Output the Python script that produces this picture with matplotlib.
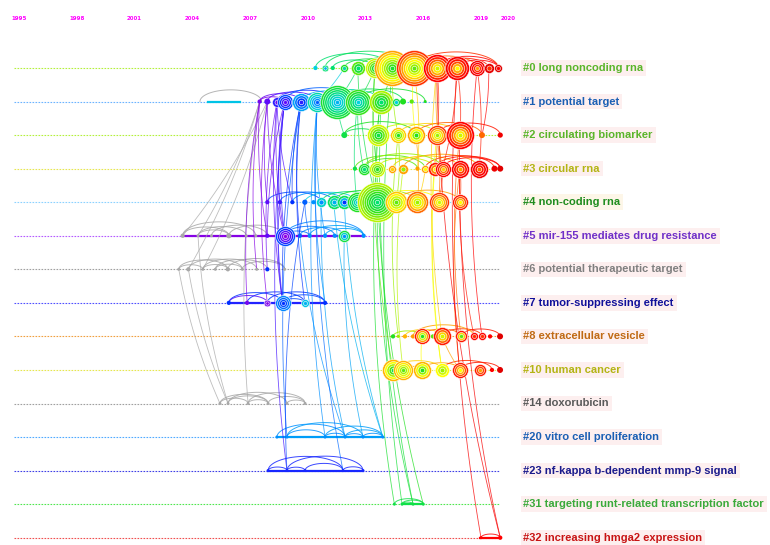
import numpy as np
import matplotlib
matplotlib.use("Agg")
from matplotlib import pyplot as plt

# cluster ids in row order, with their labels
clusters = [0, 1, 2, 3, 4, 5, 6, 7, 8, 10, 14, 20, 23, 31, 32]
cluster_labels = ["long noncoding rna", "potential target", "circulating biomarker", "circular rna",
                  "non-coding rna", "mir-155 mediates drug resistance", "potential therapeutic target",
                  "tumor-suppressing effect", "extracellular vesicle", "human cancer", "doxorubicin",
                  "vitro cell proliferation", "nf-kappa b-dependent mmp-9 signal",
                  "targeting runt-related transcription factor", "increasing hmga2 expression"]

year_ticks = [1995, 1998, 2001, 2004, 2007, 2010, 2013, 2016, 2019, 2020]

# nodes: (year, citations, first cited year, last cited year)
nodes_0 = [(2010.4, 2, 2010.4, 2011), (2010.9, 5, 2010.5, 2012), (2011.3, 2, 2011, 2012),
           (2011.9, 7, 2011.5, 2013), (2012.6, 22, 2012, 2013.5), (2013.5, 44, 2012.5, 2014.5),
           (2014.4, 144, 2012.8, 2016), (2015.5, 144, 2013.5, 2017), (2016.7, 87, 2014.5, 2018),
           (2017.75, 64, 2015, 2018.5), (2018.8, 28, 2016, 2019), (2019.4, 11, 2017, 2019.6),
           (2019.9, 7, 2018, 2020)]
nodes_1 = [(2007.5, 2, 2007, 2007.5), (2007.9, 4, 2007.3, 2008), (2008.4, 11, 2007.6, 2008.6),
           (2008.8, 28, 2008, 2009.3), (2009.65, 36, 2008.6, 2010.3), (2010.5, 44, 2009.5, 2011.5),
           (2011.5, 128, 2010.5, 2012.8), (2012.6, 75, 2011, 2013.2), (2013.8, 64, 2012, 2014.2),
           (2014.6, 7, 2011, 2012.5), (2014.95, 4, 2012.5, 2013), (2015.4, 2, 2013, 2013.5),
           (2016.1, 1, 2013, 2013)]
nodes_2 = [(2011.9, 4, 2012.5, 2012.5), (2013.65, 54, 2012.5, 2014.6), (2014.7, 28, 2013, 2015.6),
           (2015.6, 36, 2013, 2016), (2016.7, 44, 2014, 2017), (2017.9, 87, 2014.5, 2018),
           (2019.05, 4, 2016, 2016.5), (2020, 3, 2018, 2019)]
nodes_3 = [(2012.45, 2, 2012.5, 2012.5), (2012.9, 16, 2012, 2013), (2013.6, 28, 2013, 2014.5),
           (2014.4, 7, 2015.5, 2016), (2014.95, 11, 2014, 2016), (2015.7, 2, 2016, 2016),
           (2016.1, 7, 2015, 2016), (2016.6, 22, 2015, 2017.5), (2017, 28, 2015.5, 2018),
           (2017.9, 36, 2016, 2018.5), (2018.9, 36, 2016.5, 2019), (2019.7, 4, 2018, 2019),
           (2020, 4, 2019, 2020)]
nodes_4 = [(2007.9, 2, 2008, 2008), (2008.55, 2, 2008.5, 2008.5), (2009.2, 2, 2009, 2009),
           (2009.85, 3, 2009.5, 2009.5), (2010.3, 2, 2010, 2010), (2010.7, 11, 2010, 2011.2),
           (2011.35, 22, 2010.5, 2012.3), (2011.9, 22, 2009, 2012.3), (2012.55, 44, 2011, 2013),
           (2013.6, 178, 2012, 2014.3), (2014.6, 54, 2013.5, 2015.6), (2015.7, 54, 2014, 2016.5),
           (2016.8, 44, 2014.5, 2017), (2017.9, 28, 2015, 2017.5)]
nodes_5 = [(2003.5, 2, 2005, 2005), (2004.3, 1, 2005, 2005), (2005.0, 1, 2005, 2005),
           (2005.9, 3, 2005, 2005), (2006.8, 1, 2005, 2005), (2007.3, 1, 2005, 2005),
           (2007.9, 2, 2008, 2008), (2008.8, 44, 2007, 2009.3), (2009.6, 2, 2009.5, 2009.5),
           (2010.1, 2, 2010, 2010), (2010.9, 2, 2010, 2010), (2011.4, 2, 2010, 2010),
           (2011.9, 16, 2010, 2012.6), (2012.9, 2, 2010, 2010)]
nodes_6 = [(2003.3, 1, 2005, 2005), (2003.8, 2, 2005, 2005), (2004.55, 1, 2005, 2005),
           (2005.2, 1, 2005, 2005), (2005.85, 2, 2005, 2005), (2006.6, 1, 2005, 2005),
           (2007.35, 1, 2005, 2005), (2007.9, 2, 2009, 2009), (2008.8, 1, 2005, 2005)]
nodes_7 = [(2005.9, 2, 2009, 2009), (2006.85, 2, 2007.5, 2007.5), (2007.9, 5, 2007.2, 2007.5),
           (2008.7, 28, 2009, 2009.9), (2009.85, 7, 2010.5, 2010.8), (2010.9, 2, 2009, 2009)]
nodes_8 = [(2014.43, 2, 2013, 2013), (2014.7, 1, 2014, 2014), (2015.05, 2, 2015.8, 2015.8),
           (2015.47, 2, 2016, 2016), (2015.94, 28, 2013, 2017.5), (2016.5, 2, 2013.5, 2013.5),
           (2016.97, 36, 2014.5, 2017.5), (2017.96, 16, 2013.5, 2017.5), (2018.64, 7, 2017, 2018),
           (2019.05, 7, 2017, 2018), (2019.47, 2, 2018, 2018), (2019.99, 4, 2018, 2020)]
nodes_10 = [(2014.43, 54, 2012.5, 2015.8), (2014.95, 44, 2013.5, 2015.8), (2015.94, 36, 2013, 2015.8),
            (2016.97, 22, 2014, 2015), (2017.9, 28, 2015, 2017.5), (2018.95, 16, 2016, 2017.5),
            (2019.57, 2, 2018, 2018), (2019.99, 4, 2018, 2020)]
nodes_14 = [(2005.44, 1, 2005, 2005), (2005.86, 1, 2005, 2005), (2006.9, 1, 2005, 2005),
            (2007.94, 1, 2005, 2005), (2008.92, 1, 2005, 2005), (2009.86, 1, 2005, 2005)]
nodes_20 = [(2008.4, 1, 2010, 2010), (2008.92, 1, 2010, 2010), (2010.9, 1, 2010, 2010),
            (2011.94, 1, 2010, 2010), (2012.87, 1, 2010, 2010), (2013.9, 1, 2010, 2010)]
nodes_23 = [(2007.94, 1, 2008.8, 2008.8), (2008.92, 1, 2008.8, 2008.8), (2009.86, 1, 2008.8, 2008.8),
            (2011.83, 1, 2008.8, 2008.8), (2012.87, 1, 2008.8, 2008.8)]
nodes_31 = [(2014.5, 1, 2012.5, 2012.5), (2014.9, 1, 2012.5, 2012.5), (2015.47, 1, 2012.5, 2012.5),
            (2016, 1, 2012.5, 2012.5)]
nodes_32 = [(2019, 1, 2018, 2018), (2020, 2, 2018, 2018)]

# co-citation arcs inside a cluster: (from year, to year, link year)
arcs_0 = [(2010.4, 2014.4, 2012), (2010.9, 2015.5, 2012.3), (2011.3, 2013.5, 2012), (2011.9, 2014.4, 2012.6),
          (2012.6, 2015.5, 2013.2), (2013.5, 2016.7, 2014.5), (2014.4, 2017.75, 2015.5),
          (2015.5, 2018.8, 2016.5), (2016.7, 2019.4, 2017.5), (2017.75, 2019.9, 2018),
          (2015.5, 2019.9, 2017), (2016.7, 2019.9, 2018)]
arcs_1 = [(2004.4, 2007.6, 2006), (2007.5, 2009.65, 2007.8), (2007.9, 2010.5, 2008.3), (2008.4, 2011.5, 2008.8),
          (2008.8, 2012.6, 2009.5), (2009.65, 2012.6, 2010.5), (2010.5, 2013.8, 2011.5),
          (2011.5, 2014.95, 2012.3), (2012.6, 2016.1, 2012.8), (2007.5, 2008.8, 2007.3)]
arcs_2 = [(2011.9, 2015.6, 2013), (2013.65, 2016.7, 2014.5), (2014.7, 2017.9, 2015.5),
          (2015.6, 2019.05, 2016.5), (2016.7, 2020, 2017.5), (2011.9, 2013.65, 2012.5)]
arcs_3 = [(2012.45, 2016.1, 2013.5), (2012.9, 2015.7, 2013.5), (2013.6, 2016.6, 2014.5),
          (2014.4, 2017.9, 2015.5), (2014.95, 2018.9, 2016), (2016.1, 2019.7, 2017),
          (2016.6, 2020, 2017.5), (2017, 2020, 2018), (2012.9, 2017, 2014)]
arcs_4 = [(2007.9, 2010.7, 2009.3), (2008.55, 2011.35, 2009.6), (2009.2, 2011.9, 2010),
          (2009.85, 2012.55, 2011), (2010.7, 2013.6, 2012), (2011.35, 2014.6, 2013),
          (2012.55, 2015.7, 2014), (2013.6, 2016.8, 2015), (2014.6, 2017.9, 2016)]
arcs_5 = [(2003.5, 2005.9, 2005), (2003.5, 2007.3, 2005), (2004.3, 2006.8, 2005), (2005.0, 2007.9, 2005),
          (2005.9, 2008.8, 2005), (2004.3, 2005.9, 2005), (2008.8, 2011.4, 2009.7),
          (2008.8, 2012.9, 2009.9), (2009.6, 2011.9, 2010), (2010.1, 2012.9, 2010.2),
          (2010.9, 2012.9, 2010.2), (2008.8, 2010.1, 2009.6)]
arcs_6 = [(2003.3, 2005.85, 2005), (2003.8, 2006.6, 2005), (2004.55, 2007.35, 2005), (2005.2, 2007.9, 2005),
          (2005.85, 2008.8, 2005), (2003.3, 2004.55, 2005), (2004.55, 2005.85, 2005),
          (2006.6, 2008.8, 2005), (2005.2, 2006.6, 2005)]
arcs_7 = [(2005.9, 2008.7, 2009), (2006.85, 2009.85, 2009), (2007.9, 2010.9, 2009), (2008.7, 2010.9, 2009.2),
          (2005.9, 2007.9, 2008.2), (2008.7, 2009.85, 2009.2)]
arcs_8 = [(2014.43, 2015.94, 2014), (2015.05, 2016.97, 2015.5), (2015.94, 2017.96, 2016.5),
          (2016.97, 2019.05, 2017), (2017.96, 2019.99, 2017.5), (2015.47, 2018.64, 2016)]
arcs_10 = [(2014.43, 2016.97, 2015.5), (2015.94, 2017.9, 2016), (2016.97, 2019.57, 2017),
           (2017.9, 2019.99, 2017.5), (2014.95, 2015.94, 2015.8)]
arcs_14 = [(2005.44, 2007.94, 2005), (2005.86, 2008.92, 2005), (2006.9, 2009.86, 2005),
           (2005.44, 2006.9, 2005), (2006.9, 2007.94, 2005), (2007.94, 2009.86, 2005),
           (2005.86, 2007.94, 2005), (2008.92, 2009.86, 2005)]
arcs_20 = [(2008.4, 2011.94, 2010), (2008.92, 2012.87, 2010.2), (2010.9, 2013.9, 2010.2),
           (2008.92, 2010.9, 2010), (2010.9, 2011.94, 2010), (2011.94, 2012.87, 2010),
           (2012.87, 2013.9, 2010), (2011.94, 2013.9, 2010.2)]
arcs_23 = [(2007.94, 2011.83, 2008.8), (2008.92, 2012.87, 2008.8), (2007.94, 2008.92, 2008.8),
           (2008.92, 2009.86, 2008.8), (2009.86, 2011.83, 2008.8), (2011.83, 2012.87, 2008.8)]
arcs_31 = [(2014.5, 2016, 2012.5), (2014.9, 2016, 2012.5), (2014.9, 2015.47, 2012.5)]
arcs_32 = [(2019, 2020, 2018)]

# flat links along a timeline: (cluster, from year, to year, link year)
row_segments = [(1, 2004.8, 2006.5, 2010.8), (5, 2003.5, 2012.9, 2007.2), (7, 2005.9, 2010.9, 2008.7),
                (20, 2008.4, 2013.9, 2010.2), (23, 2007.94, 2012.87, 2008.8), (31, 2014.9, 2016, 2012.5),
                (32, 2018.95, 2020, 2018)]

# links between clusters: (cluster a, year a, cluster b, year b, link year)
cross_links = [
    (6, 2003.8, 1, 2007.5, 2005), (5, 2004.3, 1, 2007.5, 2005), (6, 2004.55, 1, 2007.9, 2005),
    (5, 2003.5, 1, 2007.9, 2005), (6, 2003.3, 14, 2005.44, 2005), (6, 2003.8, 14, 2005.86, 2005),
    (5, 2004.3, 14, 2005.86, 2005), (1, 2007.5, 14, 2006.9, 2005),
    (1, 2007.5, 5, 2007.9, 2007.3), (1, 2007.9, 5, 2008.8, 2007.6), (1, 2008.4, 5, 2008.8, 2008),
    (1, 2008.8, 5, 2008.8, 2008.5), (1, 2007.9, 7, 2007.9, 2007.3), (1, 2008.4, 7, 2008.7, 2008),
    (1, 2008.8, 7, 2008.7, 2008.5), (1, 2007.5, 7, 2006.85, 2007.3), (1, 2008.4, 6, 2007.9, 2007.8),
    (1, 2008.8, 4, 2008.55, 2008.5), (1, 2009.65, 4, 2009.2, 2009), (1, 2007.9, 4, 2007.9, 2007.6),
    (1, 2009.65, 7, 2009.85, 2009), (1, 2008.8, 23, 2008.92, 2008.4), (1, 2009.65, 5, 2009.6, 2009),
    (1, 2010.5, 5, 2010.9, 2010), (1, 2010.5, 7, 2010.9, 2010), (4, 2008.55, 7, 2008.7, 2008.5),
    (4, 2009.85, 5, 2010.1, 2009.5), (1, 2008.8, 5, 2007.9, 2007.8), (1, 2009.65, 7, 2008.7, 2009),
    (1, 2008.4, 4, 2009.2, 2008.3), (1, 2007.5, 6, 2007.35, 2007.2),
    (4, 2010.7, 20, 2011.94, 2010.2), (4, 2011.35, 20, 2013.9, 2010.5), (5, 2011.9, 20, 2012.87, 2010.3),
    (1, 2009.65, 20, 2008.92, 2009.5), (1, 2010.5, 20, 2010.9, 2010), (4, 2009.85, 23, 2008.92, 2009.2),
    (5, 2009.6, 20, 2011.94, 2010), (1, 2010.5, 23, 2011.83, 2009.6), (1, 2010.5, 0, 2011.9, 2011),
    (0, 2014.4, 31, 2014.9, 2012.7), (1, 2013.8, 31, 2015.47, 2012.7), (2, 2013.65, 31, 2014.5, 2012.8),
    (3, 2013.6, 31, 2016, 2013), (4, 2013.6, 31, 2015.47, 2012.7), (0, 2013.5, 10, 2014.43, 2013.5),
    (2, 2014.7, 8, 2014.7, 2014), (3, 2014.95, 10, 2014.95, 2014.3), (1, 2012.6, 3, 2012.9, 2012.2),
    (1, 2013.8, 4, 2013.6, 2013), (1, 2012.6, 4, 2012.55, 2012), (0, 2012.6, 4, 2013.6, 2012.5),
    (0, 2013.5, 3, 2013.6, 2013), (0, 2014.4, 2, 2014.7, 2014), (0, 2015.5, 2, 2015.6, 2015),
    (0, 2016.7, 3, 2017, 2016), (2, 2016.7, 10, 2016.97, 2014.8), (3, 2016.6, 10, 2016.97, 2015),
    (0, 2016.7, 8, 2016.97, 2015.5), (2, 2017.9, 8, 2017.96, 2016.5), (3, 2017.9, 10, 2017.9, 2016.5),
    (1, 2011.5, 2, 2011.9, 2012), (1, 2011.5, 0, 2012.6, 2012), (1, 2012.6, 0, 2013.5, 2012.5),
    (1, 2013.8, 0, 2014.4, 2013), (1, 2013.8, 2, 2013.65, 2013), (4, 2014.6, 2, 2014.7, 2014),
    (4, 2015.7, 3, 2016.1, 2015.5), (4, 2016.8, 2, 2016.7, 2016.5), (3, 2018.9, 0, 2018.8, 2017.5),
    (4, 2017.9, 3, 2017.9, 2017), (2, 2019.05, 0, 2019.4, 2018), (8, 2015.94, 10, 2015.94, 2015),
    (8, 2016.97, 10, 2017.9, 2016), (4, 2011.9, 20, 2013.9, 2010.5),
    (0, 2016.7, 32, 2020, 2018.5), (0, 2017.75, 32, 2019, 2018.5), (2, 2017.9, 32, 2020, 2018.5),
    (3, 2017.9, 8, 2018.64, 2017.5), (0, 2018.8, 8, 2019.05, 2018),
    (2, 2016.7, 0, 2016.7, 2017), (3, 2017, 0, 2017.75, 2017.5), (2, 2017.9, 0, 2017.75, 2017.5),
    (3, 2016.6, 2, 2016.7, 2016.5), (4, 2016.8, 3, 2017, 2017), (4, 2015.7, 2, 2015.6, 2016),
    (3, 2015.7, 0, 2015.5, 2015.5),
]

nodes = {0: nodes_0, 1: nodes_1, 2: nodes_2, 3: nodes_3, 4: nodes_4, 5: nodes_5, 6: nodes_6,
         7: nodes_7, 8: nodes_8, 10: nodes_10, 14: nodes_14, 20: nodes_20, 23: nodes_23,
         31: nodes_31, 32: nodes_32}
arcs = {0: arcs_0, 1: arcs_1, 2: arcs_2, 3: arcs_3, 4: arcs_4, 5: arcs_5, 6: arcs_6, 7: arcs_7,
        8: arcs_8, 10: arcs_10, 14: arcs_14, 20: arcs_20, 23: arcs_23, 31: arcs_31, 32: arcs_32}

line_colors = ['#b4f03c', '#6cb4ff', '#b4f03c', '#e6e650', '#8cd2ff', '#b45aff', '#a0a0a0', '#5050ff',
               '#f0a040', '#e6e650', '#a0a0a0', '#50aaff', '#4040e6', '#50e650', '#f05050']
label_colors = ['#5ab52a', '#1a5fb4', '#5ab52a', '#b4b414', '#1e8c1e', '#7030c8', '#7f7f7f', '#10109a',
                '#c06a14', '#b4b414', '#595959', '#1a5fb4', '#1a1a8c', '#3aaa3a', '#c81414']

# year -> colour (citespace style rainbow, grey before 2007)
cstops = [2006.4, 2007, 2008.3, 2009, 2010, 2011, 2012, 2013, 2014, 2015, 2016, 2017, 2018, 2020]
cvals = ['#a8a8a8', '#9000e0', '#5010ff', '#0030ff', '#0090ff', '#00d0e0', '#00e070', '#20e020',
         '#9af000', '#ffff00', '#ffa000', '#ff3000', '#ff0000', '#e00000']
crgb = np.array([matplotlib.colors.to_rgb(c) for c in cvals])


def ycolor(y):
    return tuple(np.interp(y, cstops, crgb[:, k]) for k in range(3))


PXY = 19.25   # pixels per year
PXR = 33.55   # pixels per row

fig = plt.figure(figsize=(7.7, 5.45), dpi=100)
ax = fig.add_axes([0, 0, 1, 1])
ax.set_xlim(1995 - 19 / PXY, 1995 + 751 / PXY)
ax.set_ylim((545 - 68) / PXR, -68 / PXR)
ax.axis('off')

# year scale along the top
for y in year_ticks:
    ax.text(y, -49 / PXR, str(y), color='#ff00ff', fontsize=4, fontweight='bold',
            ha='left' if y == year_ticks[-1] else 'center', va='center', family='DejaVu Sans')

for r, c in enumerate(clusters):
    ax.plot([1994.75, 2020], [r, r], color=line_colors[r], lw=0.8, ls=(0, (1.5, 1.2)), zorder=1)
    bg = '#fdf6e8' if c == 4 else '#fdefef'
    ax.text(2021.2, r, '#%d %s' % (c, cluster_labels[r]), color=label_colors[r], fontsize=8,
            fontweight='bold', family='Liberation Sans', ha='left', va='center',
            bbox=dict(boxstyle='square,pad=0.25', fc=bg, ec='none'))

for c, a, b, ly in row_segments:
    r = clusters.index(c)
    ax.plot([a, b], [r, r], color=ycolor(ly), lw=1.6, zorder=2)

# arcs above each timeline
t = np.linspace(0, np.pi, 40)
for c, lst in arcs.items():
    r = clusters.index(c)
    for a, b, ly in lst:
        h = 0.19 * (b - a) * PXY / PXR
        ax.plot((a + b) / 2 + (b - a) / 2 * np.cos(t), r - h * np.sin(t), color=ycolor(ly),
                lw=0.7, alpha=0.85, zorder=2)

# curved links between clusters
s = np.linspace(0, 1, 40)[:, None]
for ca, ya, cb, yb, ly in cross_links:
    p0 = np.array([ya, clusters.index(ca)])
    p2 = np.array([yb, clusters.index(cb)])
    dx, dy = (p2[0] - p0[0]) * PXY, (p2[1] - p0[1]) * PXR
    p1 = (p0 + p2) / 2 + np.array([-dy * 0.06 / PXY, dx * 0.06 / PXR])
    pts = (1 - s) ** 2 * p0 + 2 * (1 - s) * s * p1 + s ** 2 * p2
    ax.plot(pts[:, 0], pts[:, 1], color=ycolor(ly), lw=0.6, alpha=0.75, zorder=2)

# tree-ring nodes
for c, lst in nodes.items():
    r = clusters.index(c)
    for yr, cites, first, last in lst:
        rad = 1.5 * np.sqrt(cites)
        n = max(1, int(round(rad / 2.2)))
        for i in range(n):
            ri = rad * (n - i) / n
            cy = last - (last - first) * i / max(n - 1, 1)
            ax.scatter(yr, r, s=(2 * ri * 0.72) ** 2, color=ycolor(cy),
                       edgecolors='white' if n > 1 else 'none', linewidths=0.4, zorder=3)

fig.savefig('out.png', dpi=100)
